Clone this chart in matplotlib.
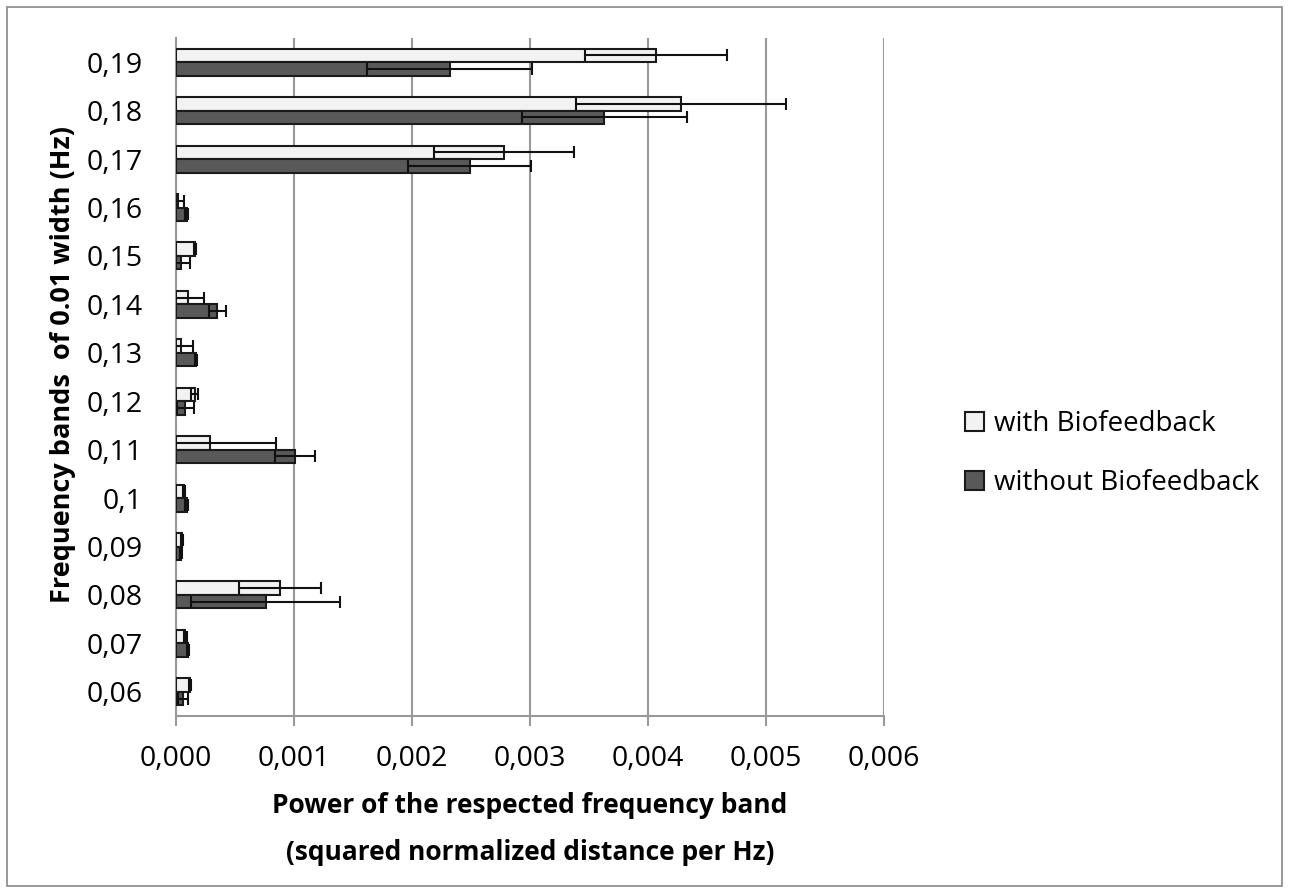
import numpy as np
import matplotlib
matplotlib.use("Agg")
from matplotlib import pyplot as plt, patches

plt.rcParams['font.family'] = ['Open Sans', 'DejaVu Sans']

# frequency bands (bottom to top)
bands = ['0,06', '0,07', '0,08', '0,09', '0,1', '0,11', '0,12', '0,13',
         '0,14', '0,15', '0,16', '0,17', '0,18', '0,19']

with_bf = [0.00012, 0.00008, 0.00088, 0.00005, 0.00007, 0.00029, 0.00016,
           0.00004, 0.00010, 0.00016, 0.00002, 0.00278, 0.00428, 0.00407]
with_err = [0.00001, 0.00001, 0.00035, 0.00001, 0.00001, 0.00056, 0.00003,
            0.00010, 0.00014, 0.00001, 0.00005, 0.00059, 0.00089, 0.00060]

without_bf = [0.00006, 0.00010, 0.00076, 0.00004, 0.00009, 0.00101, 0.00008,
              0.00017, 0.00035, 0.00004, 0.00009, 0.00249, 0.00363, 0.00232]
without_err = [0.00004, 0.00001, 0.00063, 0.00001, 0.00001, 0.00017, 0.00007,
               0.00001, 0.00007, 0.00008, 0.00001, 0.00052, 0.00070, 0.00070]

xticks = [0.000, 0.001, 0.002, 0.003, 0.004, 0.005, 0.006]

W, H = 1289, 893
fig = plt.figure(figsize=(W / 100, H / 100), dpi=100)
# axes box in pixels: x 176..884, y 38..716 (from top)
ax = fig.add_axes([176 / W, (H - 716) / H, 708 / W, 678 / H])

y = np.arange(len(bands))
h = 0.28
ax.barh(y + h / 2, with_bf, height=h, color='#f2f2f2', edgecolor='#1a1a1a',
        linewidth=1.5, label='with Biofeedback', zorder=3)
ax.barh(y - h / 2, without_bf, height=h, color='#595959', edgecolor='#1a1a1a',
        linewidth=1.5, label='without Biofeedback', zorder=3)
ax.errorbar(with_bf, y + h / 2, xerr=with_err, fmt='none', ecolor='#111111',
            elinewidth=1.5, capsize=4.3, capthick=1.5, zorder=4)
ax.errorbar(without_bf, y - h / 2, xerr=without_err, fmt='none', ecolor='#111111',
            elinewidth=1.5, capsize=4.3, capthick=1.5, zorder=4)

ax.set_xlim(0, 0.006)
ax.set_ylim(-0.5, 13.5)
ax.set_xticks(xticks)
ax.set_xticklabels([f'{v:.3f}'.replace('.', ',') for v in xticks], fontsize=20.5)
ax.set_yticks(y)
ax.set_yticklabels(bands, fontsize=20.5)
ax.tick_params(axis='x', length=7, width=1.5, color='#999999', pad=14)
ax.tick_params(axis='y', length=0, pad=24)

ax.grid(axis='x', color='#999999', linewidth=1.5, zorder=0)
for s in ['top', 'right']:
    ax.spines[s].set_visible(False)
for s in ['left', 'bottom']:
    ax.spines[s].set_color('#999999')
    ax.spines[s].set_linewidth(1.5)

ax.set_xlabel('Power of the respected frequency band\n(squared normalized distance per Hz)',
              fontsize=19, fontweight='bold', linespacing=1.95)
ax.xaxis.set_label_coords(0.5, -(792 - 716) / 678)
ax.set_ylabel('Frequency bands  of 0.01 width (Hz)', fontsize=19.5, fontweight='bold')
ax.yaxis.set_label_coords(-(176 - 76) / 708, 0.519)

fig.legend(loc='center left', bbox_to_anchor=(940 / W, 1 - 453.5 / H), frameon=False,
           fontsize=20, handlelength=0.68, handleheight=0.68,
           handletextpad=0.36, labelspacing=1.1)

fig.patches.append(patches.Rectangle((7 / W, 7 / H), 1 - 14 / W, 1 - 14 / H,
                                     transform=fig.transFigure, fill=False,
                                     edgecolor='#888888', linewidth=1.2))

fig.savefig('out.png', dpi=100)
